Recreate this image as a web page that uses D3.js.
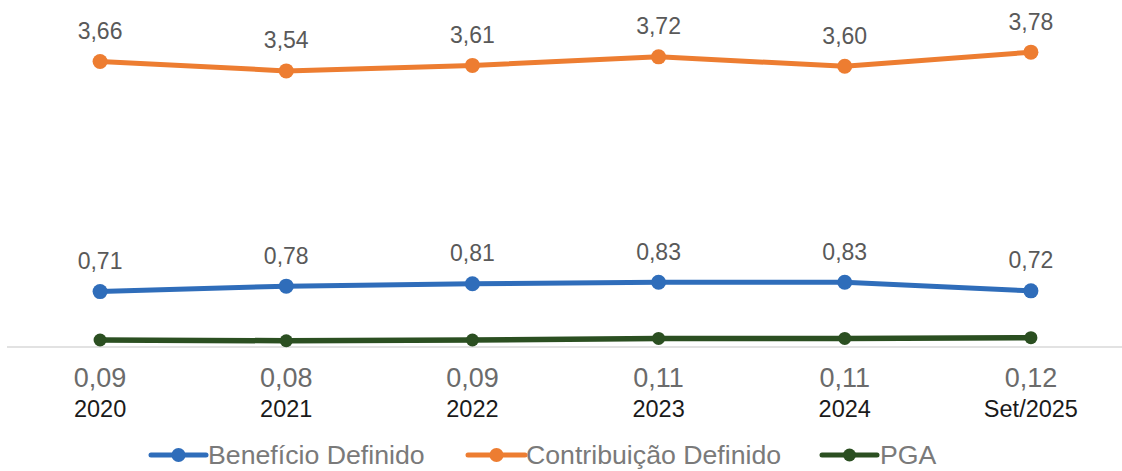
<!DOCTYPE html>
<html><head><meta charset="utf-8">
<script src="https://cdn.jsdelivr.net/npm/d3@7"></script>
<style>
html,body{margin:0;padding:0;background:#fff;}
svg{display:block;font-family:"Liberation Sans",Arial,sans-serif;}
</style></head>
<body>
<svg id="chart" width="1122" height="471"></svg>
<script>
const categories = ["2020","2021","2022","2023","2024","Set/2025"];
const beneficioDefinido = [0.71,0.78,0.81,0.83,0.83,0.72];
const contribuicaoDefinido = [3.66,3.54,3.61,3.72,3.60,3.78];
const pga = [0.09,0.08,0.09,0.11,0.11,0.12];
const seriesNames = ["Benefício Definido","Contribuição Definido","PGA"];

const colors = {bd:"#2f6dba", cd:"#ed7d31", pga:"#2b4f21"};
const fmt = v => v.toFixed(2).replace(".", ",");

const svg = d3.select("#chart");
const x = d3.scaleBand().domain(categories).range([7, 1124]).padding(0);
const y = d3.scaleLinear().domain([0, 4]).range([347, 35]);
const cx = c => x(c) + x.bandwidth()/2;

// axis line
svg.append("line").attr("x1", 7).attr("x2", 1122).attr("y1", y(0)).attr("y2", y(0))
  .attr("stroke", "#d9d9d9").attr("stroke-width", 1.5);

const series = [
  {key:"cd", values: contribuicaoDefinido, color: colors.cd, r: 7.5, w: 5},
  {key:"bd", values: beneficioDefinido, color: colors.bd, r: 7.5, w: 5},
  {key:"pga", values: pga, color: colors.pga, r: 6.5, w: 5.5}
];

const line = d3.line().x(d => cx(d.c)).y(d => y(d.v));
series.forEach(s => {
  const pts = categories.map((c,i) => ({c, v: s.values[i]}));
  svg.append("path").datum(pts).attr("d", line).attr("fill","none")
    .attr("stroke", s.color).attr("stroke-width", s.w).attr("stroke-linejoin","round");
  svg.selectAll(null).data(pts).enter().append("circle")
    .attr("cx", d => cx(d.c)).attr("cy", d => y(d.v)).attr("r", s.r).attr("fill", s.color);
  if (s.key !== "pga") {
    svg.selectAll(null).data(pts).enter().append("text")
      .attr("x", d => cx(d.c)).attr("y", d => y(d.v) - 22.5)
      .attr("text-anchor","middle").attr("font-size", 23).attr("fill", "#595959")
      .text(d => fmt(d.v));
  } else {
    svg.selectAll(null).data(pts).enter().append("text")
      .attr("x", d => cx(d.c)).attr("y", 387)
      .attr("text-anchor","middle").attr("font-size", 27).attr("fill", "#6b6b6b")
      .text(d => fmt(d.v));
  }
});

// category labels
svg.selectAll(null).data(categories).enter().append("text")
  .attr("x", d => cx(d)).attr("y", 417)
  .attr("text-anchor","middle").attr("font-size", 23.5).attr("fill", "#1a1a1a")
  .text(d => d);

// legend
const legend = [
  {name: seriesNames[0], color: colors.bd, x1: 151, x2: 206, tx: 208, r: 7},
  {name: seriesNames[1], color: colors.cd, x1: 468, x2: 525, tx: 526, r: 7},
  {name: seriesNames[2], color: colors.pga, x1: 822, x2: 877, tx: 880, r: 6.5}
];
const ly = 455;
legend.forEach(l => {
  svg.append("line").attr("x1", l.x1).attr("x2", l.x2).attr("y1", ly).attr("y2", ly)
    .attr("stroke", l.color).attr("stroke-width", 5).attr("stroke-linecap","round");
  svg.append("circle").attr("cx", (l.x1+l.x2)/2).attr("cy", ly).attr("r", l.r).attr("fill", l.color);
  svg.append("text").attr("x", l.tx).attr("y", 464).attr("font-size", 26.7)
    .attr("fill", "#7a7a7a").text(l.name);
});
</script>
</body></html>
